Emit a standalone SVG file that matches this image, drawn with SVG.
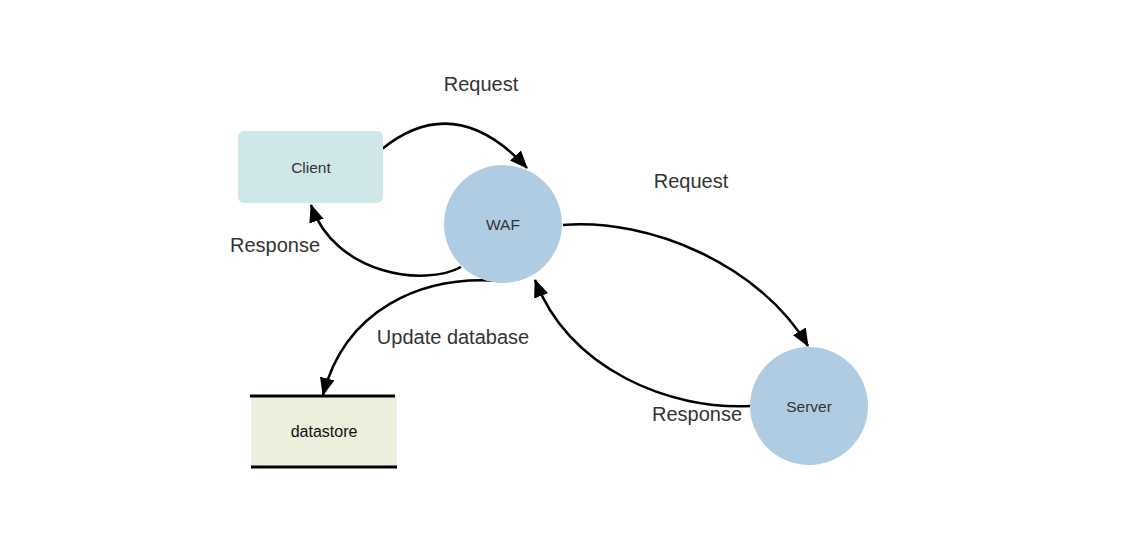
<svg xmlns="http://www.w3.org/2000/svg" width="1138" height="553" viewBox="0 0 1138 553">
<defs>
<style>
.lbl{font-family:"Liberation Sans",Arial,sans-serif;font-size:20px;fill:#333;text-anchor:middle}
.ntxt{font-family:"Liberation Sans",Arial,sans-serif;font-size:15.5px;fill:#333;text-anchor:middle;dominant-baseline:central}
.edge{fill:none;stroke:#000;stroke-width:2.5}
.circ{fill:#b0cce2}
</style>
<marker id="arr" viewBox="0 0 18 15" refX="17" refY="7.5" markerWidth="18" markerHeight="15" markerUnits="userSpaceOnUse" orient="auto">
<path d="M0,0 L18,7.5 L0,15 Z" fill="#000"/>
</marker>
</defs>
<rect width="1138" height="553" fill="#fff"/>
<g id="connectors">
<path class="edge" d="M382,149 Q455,90 527,168" marker-end="url(#arr)"/>
<path class="edge" d="M461,267 C425,287 335,275 311,205" marker-end="url(#arr)"/>
<path class="edge" d="M500,281 C420,275 345,310 323,395" marker-end="url(#arr)"/>
<path class="edge" d="M563,225 C650,218 760,265 808,346" marker-end="url(#arr)"/>
<path class="edge" d="M750,406 C670,410 570,370 535,280" marker-end="url(#arr)"/>
<text class="lbl" x="481" y="91">Request</text>
<text class="lbl" x="691" y="188">Request</text>
<text class="lbl" x="275" y="252">Response</text>
<text class="lbl" x="453" y="344">Update database</text>
<text class="lbl" x="697" y="421">Response</text>
</g>
<g id="client">
<rect x="238" y="131" width="145" height="72" rx="6" fill="#cfe7e9"/>
<text class="ntxt" x="311" y="167">Client</text>
</g>
<g id="waf">
<circle class="circ" cx="503" cy="224" r="59"/>
<text class="ntxt" x="503" y="224">WAF</text>
</g>
<g id="server">
<circle class="circ" cx="809" cy="406" r="59"/>
<text class="ntxt" x="809" y="406">Server</text>
</g>
<g id="datastore">
<rect x="251" y="396" width="146" height="71" fill="#ebefdc"/>
<line x1="250" y1="396" x2="395" y2="396" stroke="#000" stroke-width="3"/>
<line x1="251" y1="467" x2="397" y2="467" stroke="#000" stroke-width="3"/>
<text class="ntxt" x="324" y="431" style="fill:#111;font-size:16px">datastore</text>
</g>
</svg>
